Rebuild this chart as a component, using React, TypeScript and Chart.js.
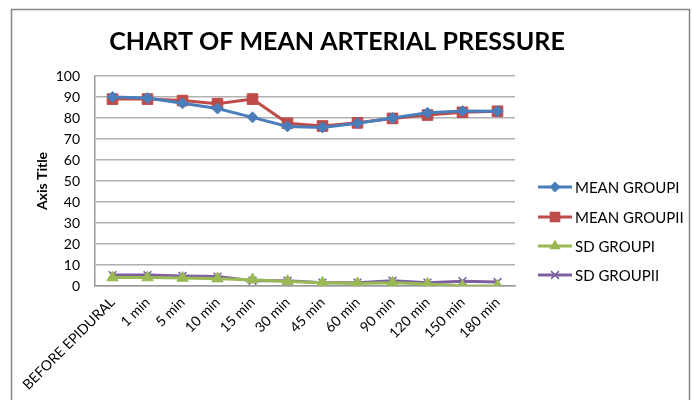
import React, { useEffect, useRef } from "react";
import { Chart, registerables } from "chart.js";

Chart.register(...registerables);

const categories = [
  "BEFORE EPIDURAL", "1 min", "5 min", "10 min", "15 min", "30 min",
  "45 min", "60 min", "90 min", "120 min", "150 min", "180 min",
];
const meanGroupI = [90, 89.5, 87, 84.5, 80.3, 76, 75.5, 77.5, 80, 82.5, 83.3, 83.2];
const meanGroupII = [89, 89, 88.3, 86.8, 89, 77.5, 76.2, 77.7, 79.8, 81.4, 82.7, 83.2];
const sdGroupI = [4, 4, 3.8, 3.5, 3, 2.2, 1.5, 1.2, 1.5, 1, 0, 0];
const sdGroupII = [5.2, 5.2, 4.8, 4.5, 2.5, 2.5, 1.6, 1.6, 2.5, 1.6, 2.3, 1.9];
const yTicks = [0, 10, 20, 30, 40, 50, 60, 70, 80, 90, 100];

const chartTitle = "CHART OF MEAN ARTERIAL PRESSURE";
const yAxisTitle = "Axis Title";
const FONT = "Lato, 'Open Sans', sans-serif";

const seriesDefs = [
  { label: "MEAN GROUPI", data: meanGroupI, color: "#4A7EBB", style: "rectRot", radius: 5.5, lw: 1 },
  { label: "MEAN GROUPII", data: meanGroupII, color: "#BE4B48", style: "rect", radius: 7.5, lw: 1 },
  { label: "SD GROUPI", data: sdGroupI, color: "#98B954", style: "triangle", radius: 6.5, lw: 1 },
  { label: "SD GROUPII", data: sdGroupII, color: "#7D60A0", style: "crossRot", radius: 5.5, lw: 1.5 },
];

function drawMarker(ctx: any, style: string, r: number, x: number, y: number, color: string, lw: number) {
  ctx.save();
  ctx.fillStyle = color;
  ctx.strokeStyle = color;
  ctx.lineWidth = lw;
  ctx.beginPath();
  if (style === "rectRot") {
    ctx.moveTo(x, y - r);
    ctx.lineTo(x + r, y);
    ctx.lineTo(x, y + r);
    ctx.lineTo(x - r, y);
    ctx.closePath();
    ctx.fill();
  } else if (style === "rect") {
    const s = r * Math.SQRT1_2;
    ctx.rect(x - s, y - s, 2 * s, 2 * s);
    ctx.fill();
  } else if (style === "triangle") {
    ctx.moveTo(x, y - r);
    ctx.lineTo(x + r * 0.866, y + r * 0.5);
    ctx.lineTo(x - r * 0.866, y + r * 0.5);
    ctx.closePath();
    ctx.fill();
  } else {
    const s = r * Math.SQRT1_2;
    ctx.moveTo(x - s, y - s);
    ctx.lineTo(x + s, y + s);
    ctx.moveTo(x + s, y - s);
    ctx.lineTo(x - s, y + s);
    ctx.stroke();
  }
  ctx.restore();
}

const decorPlugin = {
  id: "decor",
  beforeDraw(chart: any) {
    const ctx = chart.ctx;
    ctx.save();
    ctx.fillStyle = "#ffffff";
    ctx.fillRect(0, 0, chart.width, chart.height);
    ctx.strokeStyle = "#868686";
    ctx.lineWidth = 1.5;
    ctx.strokeRect(11.5, 9.5, 678, 420);
    ctx.restore();
  },
  afterDraw(chart: any) {
    const ctx = chart.ctx;
    ctx.save();
    ctx.fillStyle = "#000";
    ctx.font = `bold 25px ${FONT}`;
    ctx.textAlign = "center";
    ctx.textBaseline = "alphabetic";
    ctx.fillText(chartTitle, 337, 50);
    const ys = [187, 217, 246, 275];
    chart.data.datasets.forEach((ds: any, i: number) => {
      const y = ys[i];
      ctx.strokeStyle = ds.borderColor;
      ctx.lineWidth = 3;
      ctx.beginPath();
      ctx.moveTo(538, y);
      ctx.lineTo(572, y);
      ctx.stroke();
      drawMarker(ctx, ds.pointStyle, ds.pointRadius, 555, y, ds.borderColor, ds.pointBorderWidth);
      ctx.fillStyle = "#000";
      ctx.font = `15px ${FONT}`;
      ctx.textAlign = "left";
      ctx.textBaseline = "middle";
      ctx.fillText(ds.label, 575, y + 1);
    });
    ctx.restore();
  },
};

export default function App() {
  const ref = useRef<HTMLCanvasElement | null>(null);
  useEffect(() => {
    if (!ref.current) return;
    const chart = new Chart(ref.current, {
      type: "line",
      data: {
        labels: categories,
        datasets: seriesDefs.map((s) => ({
          label: s.label,
          data: s.data,
          borderColor: s.color,
          backgroundColor: s.color,
          pointBackgroundColor: s.color,
          pointBorderColor: s.color,
          pointStyle: s.style as any,
          pointRadius: s.radius,
          pointBorderWidth: s.lw,
          borderWidth: 3,
          tension: 0,
        })),
      },
      options: {
        responsive: false,
        animation: false,
        devicePixelRatio: 1,
        layout: { padding: { top: 76, right: 177, left: 34, bottom: 0 } },
        plugins: {
          legend: { display: false },
          title: { display: false },
          tooltip: { enabled: false },
        },
        scales: {
          x: {
            type: "category",
            offset: true,
            grid: { display: false, drawTicks: false },
            border: { display: true, color: "#9a9a9a", width: 1.5 },
            ticks: {
              color: "#000",
              font: { family: FONT, size: 14 },
              minRotation: 45,
              maxRotation: 45,
              padding: 8,
              autoSkip: false,
            },
            afterFit(scale: any) {
              scale.height = 114;
            },
          },
          y: {
            min: 0,
            max: 100,
            afterBuildTicks(scale: any) {
              scale.ticks = yTicks.map((v) => ({ value: v }));
            },
            grid: { color: "#b0b0b0", lineWidth: 1.5, drawTicks: false },
            border: { display: true, color: "#9a9a9a", width: 1.5 },
            ticks: {
              color: "#000",
              font: { family: FONT, size: 14 },
              padding: 15,
            },
            title: {
              display: true,
              text: yAxisTitle,
              color: "#000",
              font: { family: FONT, size: 14, weight: "bold" },
              padding: { top: 0, bottom: 0 },
            },
            afterFit(scale: any) {
              scale.width = 61;
            },
          },
        },
      },
      plugins: [decorPlugin],
    } as any);
    return () => chart.destroy();
  }, []);
  return (
    <div style={{ position: "absolute", left: 0, top: 0, width: 692, height: 400 }}>
      <canvas ref={ref} width={692} height={400} />
    </div>
  );
}
